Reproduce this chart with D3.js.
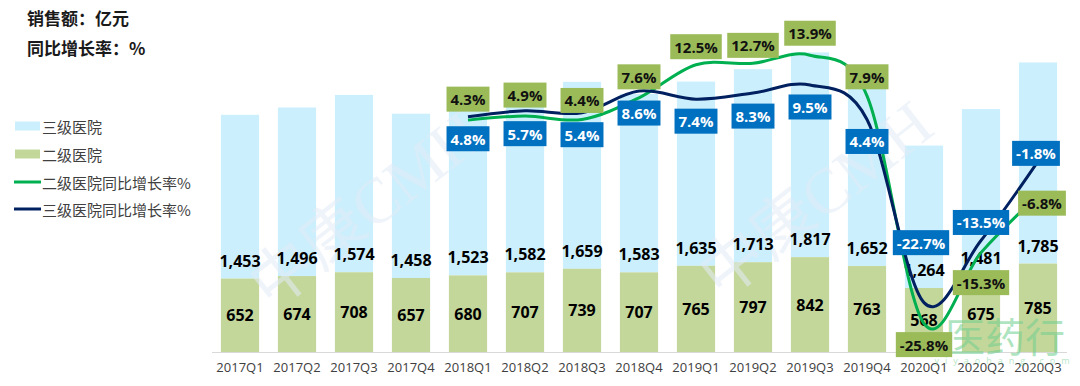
<!DOCTYPE html>
<html>
<head>
<meta charset="utf-8">
<script src="https://cdn.jsdelivr.net/npm/d3@7"></script>
<style>
    body { margin: 0; background: #fff; }
    svg { display: block; }
    .num { font-family: "Open Sans", "Noto Sans CJK SC", sans-serif; }
    .cjk { font-family: "Noto Sans CJK SC", "Noto Sans", sans-serif; }
</style>
</head>
<body>
<svg id="chart" width="1080" height="386"></svg>
<script>
// quarters on the x axis
var quarters = ["2017Q1", "2017Q2", "2017Q3", "2017Q4", "2018Q1", "2018Q2", "2018Q3", "2018Q4",
    "2019Q1", "2019Q2", "2019Q3", "2019Q4", "2020Q1", "2020Q2", "2020Q3"];

// sales, 亿元
var secondarySales = [652, 674, 708, 657, 680, 707, 739, 707, 765, 797, 842, 763, 568, 675, 785];
var tertiarySales = [1453, 1496, 1574, 1458, 1523, 1582, 1659, 1583, 1635, 1713, 1817, 1652, 1264, 1481, 1785];

// yoy growth %, no data for 2017
var secondaryGrowth = [null, null, null, null, 4.3, 4.9, 4.4, 7.6, 12.5, 12.7, 13.9, 7.9, -25.8, -15.3, -6.8];
var tertiaryGrowth = [null, null, null, null, 4.8, 5.7, 5.4, 8.6, 7.4, 8.3, 9.5, 4.4, -22.7, -13.5, -1.8];

var legendNames = ["三级医院", "二级医院", "二级医院同比增长率%", "三级医院同比增长率%"];

// label nudges (px) for the growth tags, like the hand placed ones
var greenDy = [0, 0, 0, 0, -21, -21, -19, -21, -18, -18, -22, -19, 21, 30, 8];
var greenDx = [0, 0, 0, 0, 0, 0, 0, 0, 0, 0, 0, 0, 0, 0, 4];
var blueDy = [0, 0, 0, 0, 22, 23, 22, 22, 22, 23, 22, 22, -60, -18, -8];
var blueDx = [0, 0, 0, 0, 0, 0, 0, 0, 0, 0, 0, 0, -3, 0, -2];

var colTertiary = "#CBEFFC",
    colSecondary = "#C4D79B",
    colGreenLine = "#00B050",
    colBlueLine = "#002060",
    colGreenTag = "#9BBB59",
    colBlueTag = "#0070C0";

var svg = d3.select("#chart");
var baseY = 352, topY = 14;

var x = d3.scaleBand()
    .domain(quarters)
    .range([211.5, 1066.5])
    .paddingInner(0.33)
    .paddingOuter(0.165);

var y = d3.scaleLinear().domain([0, 3000]).range([baseY, topY]);
var y2 = d3.scaleLinear().domain([-30, 20]).range([baseY, topY]);

function fmt(v) { return d3.format(",")(v); }

// watermarks, very faint
function watermark(cx, cy) {
    svg.append("text")
        .attr("transform", "translate(" + cx + "," + cy + ") rotate(-38)")
        .attr("text-anchor", "middle")
        .attr("dominant-baseline", "middle")
        .style("font-family", "'Liberation Serif', 'Noto Sans CJK SC', serif")
        .style("font-size", "64px")
        .style("fill", "#E2ECF8")
        .style("opacity", 0.55)
        .text("中康CMH");
}

// bars
var bars = svg.append("g");
quarters.forEach(function (q, i) {
    var g2 = secondarySales[i], g3 = tertiarySales[i];
    bars.append("rect")
        .attr("x", x(q))
        .attr("width", x.bandwidth())
        .attr("y", y(g2 + g3))
        .attr("height", y(g2) - y(g2 + g3))
        .attr("fill", colTertiary);
    bars.append("rect")
        .attr("x", x(q))
        .attr("width", x.bandwidth())
        .attr("y", y(g2))
        .attr("height", baseY - y(g2))
        .attr("fill", colSecondary);
});

watermark(370, 215);
watermark(820, 205);

// value labels inside bars
var vals = svg.append("g");
quarters.forEach(function (q, i) {
    var cx = x(q) + x.bandwidth() / 2;
    vals.append("text")
        .attr("class", "num")
        .attr("x", cx)
        .attr("y", (y(secondarySales[i]) + baseY) / 2)
        .attr("text-anchor", "middle")
        .attr("dominant-baseline", "central")
        .style("font-size", "16px")
        .style("font-weight", "bold")
        .style("fill", "#000")
        .text(fmt(secondarySales[i]));
    vals.append("text")
        .attr("class", "num")
        .attr("x", cx)
        .attr("y", y(secondarySales[i]) - 18)
        .attr("text-anchor", "middle")
        .attr("dominant-baseline", "central")
        .style("font-size", "16px")
        .style("font-weight", "bold")
        .style("fill", "#000")
        .text(fmt(tertiarySales[i]));
});

// x axis
var xAxis = d3.axisBottom(x).tickSize(0).tickPadding(11);
var axisG = svg.append("g")
    .attr("transform", "translate(0," + baseY + ")")
    .call(xAxis);
axisG.select(".domain").attr("stroke", "#D9D9D9").attr("stroke-width", 1.2);
axisG.selectAll("text")
    .attr("class", "num")
    .style("font-size", "13px")
    .style("fill", "#404040");

// logo watermark bottom right
svg.append("text")
    .attr("class", "cjk")
    .attr("x", 1005)
    .attr("y", 352)
    .attr("text-anchor", "middle")
    .style("font-size", "40px")
    .style("fill", "#6FCF8E")
    .style("opacity", 0.55)
    .text("医药行");
svg.append("text")
    .attr("class", "num")
    .attr("x", 1005)
    .attr("y", 364)
    .attr("text-anchor", "middle")
    .style("font-size", "9px")
    .style("letter-spacing", "6px")
    .style("fill", "#6FCF8E")
    .style("opacity", 0.5)
    .text("yiyaohang.com");

// growth lines
function growthLine(values) {
    return d3.line()
        .defined(function (d) { return d != null; })
        .x(function (d, i) { return x(quarters[i]) + x.bandwidth() / 2; })
        .y(function (d) { return y2(d); })
        .curve(d3.curveCatmullRom.alpha(0))(values);
}

svg.append("path")
    .attr("d", growthLine(secondaryGrowth))
    .attr("fill", "none")
    .attr("stroke", colGreenLine)
    .attr("stroke-width", 3);

svg.append("path")
    .attr("d", growthLine(tertiaryGrowth))
    .attr("fill", "none")
    .attr("stroke", colBlueLine)
    .attr("stroke-width", 3);

// tags
function tags(values, dx, dy, bg, fg) {
    var g = svg.append("g");
    values.forEach(function (v, i) {
        if (v == null) return;
        var cx = x(quarters[i]) + x.bandwidth() / 2 + dx[i];
        var cy = y2(v) + dy[i];
        var t = g.append("text")
            .attr("class", "num")
            .attr("x", cx)
            .attr("y", cy)
            .attr("text-anchor", "middle")
            .attr("dominant-baseline", "central")
            .style("font-size", "15px")
            .style("font-weight", "bold")
            .style("fill", fg)
            .text(v.toFixed(1) + "%");
        var w = t.node().getComputedTextLength() + 8;
        g.insert("rect", function () { return t.node(); })
            .attr("x", cx - w / 2)
            .attr("y", cy - 12.5)
            .attr("width", w)
            .attr("height", 25)
            .attr("fill", bg);
    });
}

tags(secondaryGrowth, greenDx, greenDy, colGreenTag, "#111");
tags(tertiaryGrowth, blueDx, blueDy, colBlueTag, "#fff");

// titles
svg.append("text")
    .attr("class", "cjk")
    .attr("x", 27)
    .attr("y", 17)
    .attr("dominant-baseline", "central")
    .style("font-size", "17px")
    .style("font-weight", "bold")
    .style("fill", "#1a1a1a")
    .text("销售额：亿元");
svg.append("text")
    .attr("class", "cjk")
    .attr("x", 27)
    .attr("y", 47)
    .attr("dominant-baseline", "central")
    .style("font-size", "17px")
    .style("font-weight", "bold")
    .style("fill", "#1a1a1a")
    .text("同比增长率：%");

// legend
var legendY = [126, 154, 182, 209];
var legend = svg.append("g");
legendNames.forEach(function (name, i) {
    var ly = legendY[i];
    if (i < 2) {
        legend.append("rect")
            .attr("x", 15)
            .attr("y", ly - 4.5)
            .attr("width", 25)
            .attr("height", 9)
            .attr("fill", i == 0 ? colTertiary : colSecondary);
    } else {
        legend.append("line")
            .attr("x1", 14)
            .attr("x2", 41)
            .attr("y1", ly)
            .attr("y2", ly)
            .attr("stroke", i == 2 ? colGreenLine : colBlueLine)
            .attr("stroke-width", 3);
    }
    legend.append("text")
        .attr("class", "cjk")
        .attr("x", 42)
        .attr("y", ly)
        .attr("dominant-baseline", "central")
        .style("font-size", "15px")
        .style("fill", "#404040")
        .text(name);
});
</script>
</body>
</html>
